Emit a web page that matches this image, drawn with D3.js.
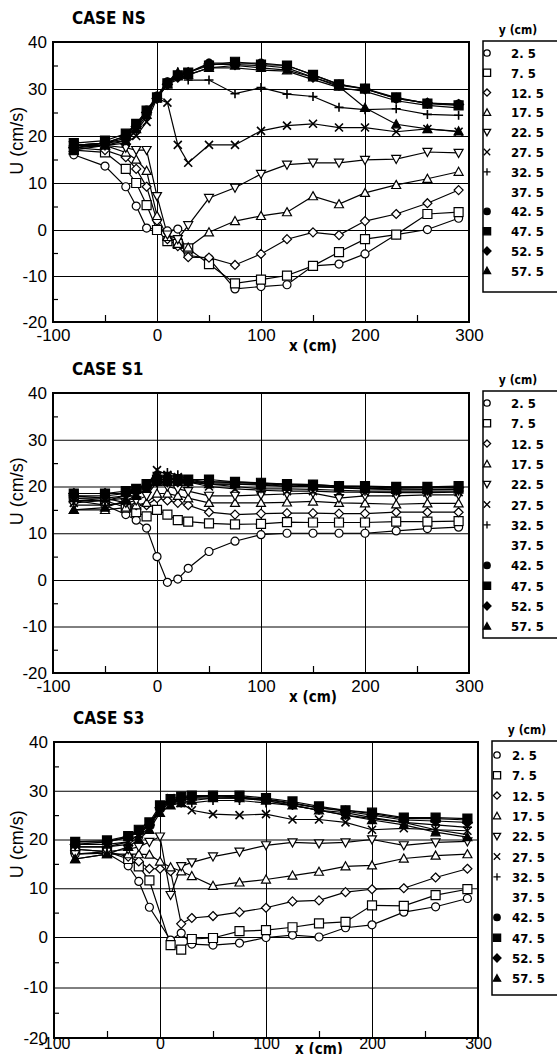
<!DOCTYPE html>
<html>
<head>
<meta charset="utf-8">
<script src="https://cdn.jsdelivr.net/npm/d3@7"></script>
<style>
  body { margin: 0; background: #fff; }
  svg { display: block; }
</style>
</head>
<body>
<div id="container"></div>
<script>
// 测点位置 x (cm)
const xStations = [-80, -50, -30, -20, -10, 0, 10, 20, 30, 50, 75, 100, 125, 150, 175, 200, 230, 260, 290];
// 测点高度 y (cm)
const levels = ["2. 5", "7. 5", "12. 5", "17. 5", "22. 5", "27. 5", "32. 5", "37. 5", "42. 5", "47. 5", "52. 5", "57. 5"];
const markerTypes = ["circle", "square", "diamond", "tri", "tridown", "x", "plus", "none", "fcircle", "fsquare", "fdiamond", "ftri"];
const yTicks = [40, 30, 20, 10, 0, -10, -20];
const yMinor = [35, 25, 15, 5, -5, -15];
const xTicks = [-100, 0, 100, 200, 300];
const xMinor = [-50, 50, 150, 250];

// U (cm/s), one row per level
const uNS = [
  [16, 13.6, 9.2, 5.1, 0.4, 0.2, -0.2, 0.2, -5.5, -6.2, -12.8, -12.3, -11.9, -7.8, -7.4, -5.2, -1, 0.1, 2.5],
  [17, 16.5, 13, 10, 5.3, 0, -2.4, -3, -4, -7.4, -11.6, -10.8, -9.9, -7.8, -4.8, -2, -1, 3.4, 3.8],
  [17.5, 17, 15.5, 13, 9.2, 2, -2, -3.5, -5.9, -6, -7.6, -5.2, -2, -0.5, -1.1, 1.9, 3.4, 5.7, 8.5],
  [17.5, 18, 16.5, 15, 12.6, 3, -1.5, -3, -3.8, -0.5, 1.9, 3, 3.8, 7.2, 5.5, 7.9, 9.6, 10.9, 12.4],
  [18, 18, 17.5, 17, 17, 7.2, -1, -2, 1, 6.8, 9, 11.9, 13.9, 14.3, 14.3, 14.9, 15.1, 16.6, 16.4],
  [17.5, 18, 18.5, 20, 23, 28, 27.1, 18.1, 14.3, 18.1, 18.1, 21.1, 22.2, 22.6, 21.8, 21.8, 20.9, 21.5, 20.9],
  [18, 18.5, 19, 21, 24, 28.5, 31.5, 33.6, 31.9, 31.9, 29, 30.3, 28.9, 28.4, 26.1, 25.6, 25.8, 24.6, 24.4],
  [18, 18.5, 20, 22, 25, 28.5, 31, 32, 33, 34.5, 34.5, 34, 33.8, 32, 30.3, 29.5, 27.5, 26.5, 26],
  [18, 18.5, 20, 22.5, 25.5, 28.5, 31.5, 33, 33.5, 35.5, 35.5, 35.5, 35, 33, 31, 30, 28, 27, 26.8],
  [18.5, 19, 20.5, 22.6, 25.4, 28.2, 31.2, 32.9, 33.5, 35, 35.8, 35.2, 35, 33, 31, 30.1, 28.2, 26.9, 26.5],
  [17.5, 18.5, 19.5, 22, 25, 28, 31, 32.5, 33.5, 35.3, 35.2, 35, 34.5, 32.5, 30.8, 30, 28, 27, 26.7],
  [17, 18, 19, 21.5, 24.5, 28, 31, 33.5, 33, 34.5, 35, 34.5, 34, 32.5, 30.5, 26, 22.5, 21.5, 21]
];

const uS1 = [
  [17, 16, 14, 12.8, 11.1, 5, -0.5, 0.2, 2.5, 6.1, 8.3, 9.7, 10, 10, 10, 10, 10.5, 11, 11.3],
  [17.5, 17, 15.5, 14.5, 13.6, 15, 14, 12.8, 12.5, 12.1, 11.9, 12, 12.4, 12.3, 12.3, 12.3, 12.5, 12.5, 12.6],
  [18, 17.5, 16.5, 16, 16, 17.5, 17, 16.5, 16, 14.5, 14, 14.2, 14.3, 14.3, 14.2, 14.2, 14.5, 14.5, 14.5],
  [15, 15, 15.5, 16, 16.5, 18.5, 18.5, 18, 17.5, 16.5, 16.5, 16.5, 16.6, 16.8, 16.5, 16.4, 16.2, 16.4, 16.4],
  [16, 16, 16.5, 17, 18, 21, 20, 19.5, 19, 18, 18, 18.2, 18.4, 18.6, 17.5, 18, 18, 18.2, 18.2],
  [16.5, 17, 17.5, 18.5, 20, 23.5, 22.5, 22, 21, 20, 19.5, 19.2, 19, 19, 18.8, 18.8, 18.7, 18.7, 18.8],
  [17, 17, 18, 19, 20.5, 23, 23, 22.5, 21.5, 20.5, 20, 19.5, 19.5, 19.4, 19.2, 19, 19, 19, 19],
  [17.5, 17.5, 18, 19, 20.5, 22.5, 22, 21.5, 21, 20.5, 20.5, 20.5, 20, 20, 19.8, 19.6, 19.5, 19.4, 19.5],
  [18, 18, 18.5, 19.5, 20.5, 22, 22, 21.5, 21.5, 21, 21, 20.7, 20.5, 20.4, 20.1, 20, 19.8, 19.8, 19.8],
  [18.5, 18.5, 19, 19.5, 20.5, 21.5, 21.5, 21.5, 21.5, 21.5, 21, 20.8, 20.5, 20.4, 20.1, 20.1, 19.9, 19.9, 20.1],
  [18.5, 18.5, 18.5, 19, 20, 21, 21, 21, 21, 21, 20.8, 20.6, 20.3, 20.2, 20, 19.9, 19.7, 19.7, 19.8],
  [15, 15.5, 17, 18, 19.5, 21, 21, 21, 21, 20.5, 20.5, 20.3, 20, 20, 19.7, 19.5, 19.3, 19.3, 19.4]
];

const uS3 = [
  [17, 17.2, 14.6, 11.4, 6.1, null, -0.6, 0.8, -1.4, -1.6, -1.2, -0.1, 0.4, 0, 1.9, 2.5, 5.1, 6.2, 7.9],
  [18, 17.5, 16, 14.5, 11.6, null, -1.6, -2.5, -0.4, -0.2, 1.2, 1.4, 2, 2.8, 3.1, 6.5, 6.4, 8.6, 9.8],
  [18, 17.5, 16.5, 15.5, 14, 14, 13.5, 2.7, 3.9, 4.3, 5.1, 6, 7.3, 7.5, 9.2, 9.8, 10, 12.2, 14],
  [16, 17, 17, 17, 16.9, 15.5, 14.3, 13.5, 12.5, 10.5, 11.2, 11.8, 12.6, 13.4, 14.5, 14.7, 16.1, 16.7, 17],
  [17, 17.5, 18, 18.5, 19.5, 20.6, 8.6, 14.5, 15.3, 16.5, 17.5, 18.8, 19.4, 19.2, 19.4, 20, 18.8, 19.4, 19.6],
  [19, 19, 19.5, 21, 23, 26.5, 28.5, 27.5, 26, 25.2, 25, 25.2, 24.1, 24.1, 23.5, 22, 22.3, 22, 21.8],
  [18.5, 18.5, 19, 20.5, 22.5, 26, 27.5, 27.5, 27.5, 28, 28, 27.5, 27, 26, 25, 24.3, 23.5, 23, 22.5],
  [18.5, 18.5, 19.5, 21, 23, 26.5, 27.5, 28, 28.5, 28.5, 28.5, 28, 27, 26, 25.5, 24.5, 23.5, 22, 21],
  [19.5, 19.5, 20.5, 21.8, 23, 26.6, 28, 28.5, 28.7, 29, 28.7, 28.3, 27.5, 26.5, 26, 25.3, 24.3, 24.3, 24],
  [19.5, 19.8, 20.7, 22, 23.5, 27, 28.3, 28.8, 29, 29, 29, 28.5, 27.8, 26.8, 26, 25.5, 24.5, 24.5, 24.3],
  [19, 19.5, 20.5, 21.5, 23, 26.5, 27.8, 28.5, 28.7, 28.8, 28.6, 28.2, 27.3, 26.5, 25.8, 25, 24, 23.8, 23.5],
  [16, 17, 18.5, 20, 22, 25.5, 27, 27.5, 28, 28.5, 28.5, 28, 27, 26, 25, 24, 23, 21.5, 20.5]
];

// 布局参数
const svgWidth = 557;
const svgHeight = 1054;
const panels = [
  { title: "CASE NS", u: uNS, left: 53, right: 469, yPx: [322, 230, 42], tickBase: 19, tickSize: 17, xLabBase: 29,
    legX: 483, legTop: 41, legBottom: 292, legRow0: 53, legStep: 19.8, legMark: 487, legText: 511 },
  { title: "CASE S1", u: uS1, left: 53, right: 469, yPx: [673, 580, 393], tickBase: 19, tickSize: 17, xLabBase: 29,
    legX: 483, legTop: 391, legBottom: 638, legRow0: 403, legStep: 20.3, legMark: 487, legText: 511 },
  { title: "CASE S3", u: uS3, left: 54, right: 478, yPx: [1038, 937, 742], tickBase: 11, tickSize: 16, xLabBase: 16,
    legX: 492, legTop: 741, legBottom: 995, legRow0: 755, legStep: 20.3, legMark: 497, legText: 512 }
];

const tickFont = "'Liberation Sans', Arial, sans-serif";
const condFont = "'DejaVu Sans Condensed', 'DejaVu Sans', sans-serif";

// 标记形状
function markerPath(type, r) {
  switch (type) {
    case "circle": case "fcircle":
      return `M${-r},0a${r},${r} 0 1,0 ${2 * r},0a${r},${r} 0 1,0 ${-2 * r},0Z`;
    case "square": case "fsquare":
      return `M${-r},${-r}H${r}V${r}H${-r}Z`;
    case "diamond": case "fdiamond":
      return `M0,${-r}L${r},0L0,${r}L${-r},0Z`;
    case "tri": case "ftri":
      return `M0,${-r}L${r},${r * 0.8}L${-r},${r * 0.8}Z`;
    case "tridown":
      return `M0,${r}L${r},${-r * 0.8}L${-r},${-r * 0.8}Z`;
    case "x":
      return `M${-r},${-r}L${r},${r}M${-r},${r}L${r},${-r}`;
    case "plus":
      return `M${-r},0H${r}M0,${-r}V${r}`;
  }
  return "";
}
const markerSize = { circle: 4, square: 4.5, diamond: 4.5, tri: 4.5, tridown: 4.5, x: 4, plus: 4.5, none: 0,
  fcircle: 4, fsquare: 4.5, fdiamond: 5, ftri: 4.5 };

const svg = d3.select("#container").append("svg")
  .attr("width", svgWidth)
  .attr("height", svgHeight);

panels.forEach(drawPanel);

function drawPanel(p) {
  const x = d3.scaleLinear().domain([-100, 300]).range([p.left, p.right]);
  const y = d3.scaleLinear().domain([-20, 0, 40]).range(p.yPx);
  const top = y(40), bottom = y(-20);
  const g = svg.append("g");

  // 标题
  g.append("text")
    .attr("x", p.left + 19).attr("y", top - 18)
    .attr("font-family", condFont).attr("font-weight", "bold").attr("font-size", 17)
    .text(p.title);

  // 网格线
  g.append("g").attr("transform", `translate(${p.left},0)`)
    .call(d3.axisLeft(y).tickValues([30, 20, 10, 0, -10]).tickSize(-(p.right - p.left)).tickFormat(""))
    .call(a => a.select(".domain").remove())
    .call(a => a.selectAll("line").attr("stroke", "#000").attr("stroke-width", 1));
  g.append("g").attr("transform", `translate(0,${bottom})`)
    .call(d3.axisBottom(x).tickValues([0, 100, 200]).tickSize(-(bottom - top)).tickFormat(""))
    .call(a => a.select(".domain").remove())
    .call(a => a.selectAll("line").attr("stroke", "#000").attr("stroke-width", 1));

  // 小刻度
  g.append("g").attr("transform", `translate(${p.left},0)`)
    .call(d3.axisLeft(y).tickValues(yMinor).tickSize(-5).tickFormat(""))
    .call(a => a.select(".domain").remove())
    .call(a => a.selectAll("line").attr("stroke", "#000").attr("stroke-width", 1.2));
  g.append("g").attr("transform", `translate(0,${bottom})`)
    .call(d3.axisBottom(x).tickValues(xMinor).tickSize(-7).tickFormat(""))
    .call(a => a.select(".domain").remove())
    .call(a => a.selectAll("line").attr("stroke", "#000").attr("stroke-width", 1.2));

  // 刻度标签
  g.append("g").attr("transform", `translate(${p.left},0)`)
    .call(d3.axisLeft(y).tickValues(yTicks).tickSize(0).tickPadding(6).tickFormat(d => d))
    .call(a => a.select(".domain").remove())
    .call(a => a.selectAll("text").attr("font-family", tickFont).attr("font-size", 17).attr("fill", "#000"));
  g.append("g").attr("transform", `translate(0,${bottom})`)
    .call(d3.axisBottom(x).tickValues(xTicks).tickSize(0).tickFormat(d => d))
    .call(a => a.select(".domain").remove())
    .call(a => a.selectAll("text")
      .attr("y", p.tickBase).attr("dy", null)
      .attr("font-family", tickFont).attr("font-size", p.tickSize).attr("fill", "#000"));

  // 坐标轴标题
  g.append("text")
    .attr("transform", `translate(23,${y(19)}) rotate(-90)`)
    .attr("text-anchor", "middle")
    .attr("font-family", tickFont).attr("font-size", 18)
    .text("U (cm/s)");
  g.append("text")
    .attr("x", x(150)).attr("y", bottom + p.xLabBase)
    .attr("text-anchor", "middle")
    .attr("font-family", condFont).attr("font-weight", "bold").attr("font-size", 15)
    .text("x (cm)");

  // 折线
  const line = d3.line()
    .x(d => x(d[0]))
    .y(d => y(d[1]));

  const series = p.u.map((vals, i) => ({
    type: markerTypes[i],
    pts: vals.map((v, j) => [xStations[j], v]).filter(d => d[1] != null)
  }));

  const plot = g.append("g");
  plot.selectAll("path.line")
    .data(series)
    .enter().append("path")
    .attr("class", "line")
    .attr("fill", "none")
    .attr("stroke", "#000")
    .attr("stroke-width", 1.2)
    .attr("d", d => line(d.pts));

  // 标记
  series.forEach(s => {
    if (s.type === "none") return;
    const filled = s.type.startsWith("f");
    const open = s.type === "x" || s.type === "plus";
    plot.append("g").selectAll("path")
      .data(s.pts)
      .enter().append("path")
      .attr("transform", d => `translate(${x(d[0])},${y(d[1])})`)
      .attr("d", markerPath(s.type, markerSize[s.type]))
      .attr("fill", filled ? "#000" : (open ? "none" : "#fff"))
      .attr("stroke", "#000")
      .attr("stroke-width", open ? 1.6 : 1.2);
  });

  // 外框
  g.append("rect")
    .attr("x", p.left).attr("y", top)
    .attr("width", p.right - p.left).attr("height", bottom - top)
    .attr("fill", "none").attr("stroke", "#000").attr("stroke-width", 2);

  // 图例
  const leg = g.append("g");
  leg.append("text")
    .attr("x", p.legX + 35).attr("y", p.legTop - 7)
    .attr("text-anchor", "middle")
    .attr("font-family", condFont).attr("font-weight", "bold").attr("font-size", 12)
    .text("y (cm)");
  leg.append("rect")
    .attr("x", p.legX).attr("y", p.legTop)
    .attr("width", svgWidth - p.legX + 5).attr("height", p.legBottom - p.legTop)
    .attr("fill", "none").attr("stroke", "#000").attr("stroke-width", 1.5);

  const rows = leg.selectAll("g.row")
    .data(levels)
    .enter().append("g")
    .attr("class", "row")
    .attr("transform", (d, i) => `translate(0,${p.legRow0 + i * p.legStep})`);
  rows.append("path")
    .attr("transform", `translate(${p.legMark},0)`)
    .attr("d", (d, i) => markerPath(markerTypes[i], markerSize[markerTypes[i]] * 0.8))
    .attr("fill", (d, i) => markerTypes[i].startsWith("f") ? "#000" : "#fff")
    .attr("stroke", "#000")
    .attr("stroke-width", 1.3);
  rows.append("text")
    .attr("x", p.legText).attr("y", 5)
    .attr("font-family", condFont).attr("font-weight", "bold").attr("font-size", 13)
    .text(d => d);
}
</script>
</body>
</html>
